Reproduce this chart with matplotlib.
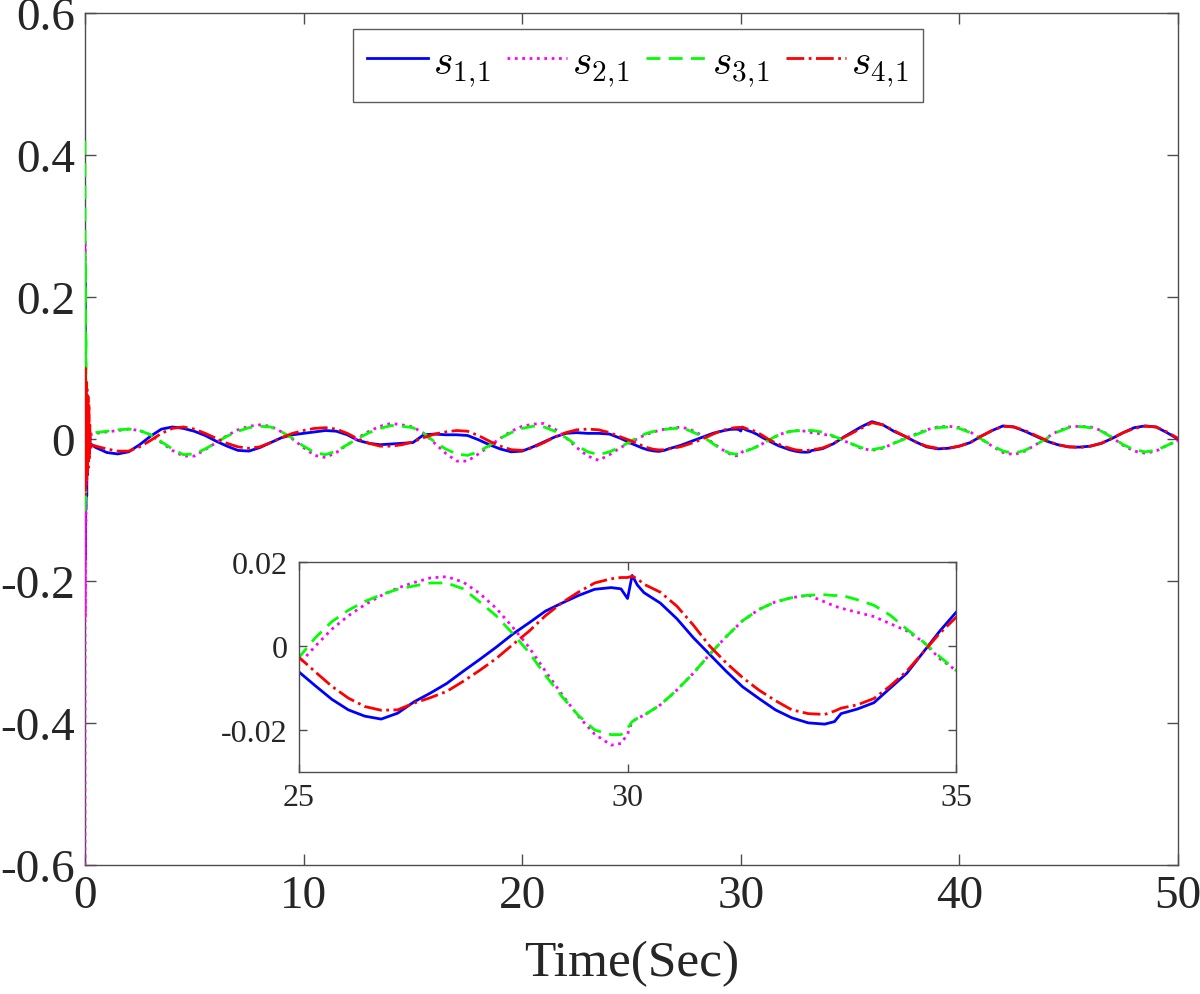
import matplotlib
matplotlib.use("Agg")
import matplotlib.pyplot as plt
from matplotlib.ticker import FuncFormatter

plt.rcParams['font.family'] = ['Liberation Serif', 'DejaVu Serif']
plt.rcParams['mathtext.fontset'] = 'cm'
plt.rcParams['axes.unicode_minus'] = False

# ---------------- data ----------------
t_start = [0.0, 0.01, 0.02, 0.03, 0.04, 0.06, 0.08, 0.10, 0.12, 0.14, 0.16, 0.18, 0.20, 0.22, 0.25, 0.30]
t_early = [0.5, 1.0, 1.5, 2.0, 2.5, 3.0, 3.5, 4.0, 4.5, 5.0, 5.5, 6.0, 6.5, 7.0, 7.5, 8.0, 8.5, 9.0, 9.5, 10.0,
           10.5, 11.0, 11.5, 12.0, 12.5, 13.0, 13.5, 14.0, 14.5, 15.0, 15.5, 16.0, 16.5, 17.0, 17.5, 18.0, 18.5,
           19.0, 19.5, 20.0, 20.5, 21.0, 21.5, 22.0, 22.5, 23.0, 23.5, 24.0, 24.5]
t_zoom = [25.0, 25.25, 25.5, 25.75, 26.0, 26.25, 26.5, 26.75, 27.0, 27.25, 27.5, 27.75, 28.0, 28.25, 28.5, 28.75,
          29.0, 29.25, 29.5, 29.75, 29.9, 30.0, 30.07, 30.15, 30.25, 30.5, 30.75, 31.0, 31.25, 31.5, 31.75, 32.0,
          32.25, 32.5, 32.75, 33.0, 33.15, 33.25, 33.5, 33.75, 34.0, 34.25, 34.5, 34.75, 35.0]
t_late = [35.5, 36.0, 36.5, 37.0, 37.5, 38.0, 38.5, 39.0, 39.5, 40.0, 40.5, 41.0, 41.5, 42.0, 42.5, 43.0, 43.5,
          44.0, 44.5, 45.0, 45.5, 46.0, 46.5, 47.0, 47.5, 48.0, 48.5, 49.0, 49.5, 50.0]

s1_start = [0.0, 0.22, -0.17, 0.12, -0.10, 0.07, -0.08, 0.05, -0.05, 0.03, -0.03, 0.02, -0.02, 0.005, -0.012, -0.008]
s1_early = [-0.012, -0.019, -0.021, -0.018, -0.008, 0.004, 0.014, 0.017, 0.015, 0.011, 0.005, -0.003, -0.010,
            -0.016, -0.017, -0.012, -0.005, 0.002, 0.006, 0.008, 0.010, 0.012, 0.011, 0.006, -0.002, -0.006,
            -0.008, -0.007, -0.006, -0.005, 0.006, 0.007, 0.006, 0.006, 0.005, -0.001, -0.008, -0.014, -0.018,
            -0.017, -0.011, -0.004, 0.003, 0.008, 0.009, 0.008, 0.008, 0.007, 0.001]
s1_zoom = [-0.0062, -0.0095, -0.0127, -0.0152, -0.0167, -0.0174, -0.0160, -0.0133, -0.0112, -0.0089, -0.0060,
           -0.0032, -0.0003, 0.0028, 0.0055, 0.0083, 0.0102, 0.0120, 0.0135, 0.0139, 0.0136, 0.0113, 0.0168,
           0.0145, 0.0127, 0.0102, 0.0065, 0.0020, -0.0020, -0.0060, -0.0097, -0.0125, -0.0152, -0.0171,
           -0.0183, -0.0186, -0.0180, -0.0161, -0.0150, -0.0135, -0.0100, -0.0065, -0.0015, 0.0035, 0.0080]
s1_late = [0.017, 0.0245, 0.020, 0.011, 0.004, -0.004, -0.011, -0.0138, -0.013, -0.010, -0.005, 0.004, 0.012,
           0.0185, 0.017, 0.011, 0.004, -0.003, -0.008, -0.011, -0.0114, -0.010, -0.006, 0.001, 0.009, 0.016,
           0.0185, 0.017, 0.009, 0.000]

s2_start = [-0.60, 0.28, -0.25, 0.15, -0.12, 0.08, -0.06, 0.04, -0.03, 0.02, -0.015, 0.012, -0.005, 0.008, 0.004, 0.007]
s2_early = [0.008, 0.010, 0.012, 0.014, 0.012, 0.006, -0.005, -0.016, -0.024, -0.024, -0.015, -0.005, 0.005,
            0.013, 0.018, 0.020, 0.018, 0.010, 0.000, -0.012, -0.023, -0.026, -0.019, -0.008, 0.002, 0.011,
            0.018, 0.022, 0.020, 0.017, 0.008, -0.006, -0.020, -0.031, -0.031, -0.021, -0.010, 0.001, 0.011,
            0.018, 0.021, 0.022, 0.014, 0.002, -0.012, -0.024, -0.030, -0.022, -0.012]
s2_zoom = [-0.0043, 0.0000, 0.0040, 0.0072, 0.0098, 0.0120, 0.0138, 0.0151, 0.0162, 0.0165, 0.0152, 0.0125,
           0.0090, 0.0045, -0.0003, -0.0060, -0.0115, -0.0167, -0.0210, -0.0236, -0.0232, -0.0210, -0.0180,
           -0.0172, -0.0165, -0.0140, -0.0105, -0.0065, -0.0020, 0.0022, 0.0060, 0.0087, 0.0105, 0.0115,
           0.0121, 0.0105, 0.0095, 0.0090, 0.0080, 0.0070, 0.0053, 0.0036, 0.0010, -0.0030, -0.0058]
s2_late = [-0.013, -0.016, -0.013, -0.006, 0.001, 0.007, 0.013, 0.017, 0.018, 0.016, 0.010, 0.000, -0.010,
           -0.019, -0.022, -0.017, -0.008, 0.002, 0.011, 0.017, 0.018, 0.017, 0.012, 0.002, -0.009, -0.017,
           -0.020, -0.017, -0.009, -0.002]

s3_start = [0.42, -0.10, 0.25, -0.08, 0.15, -0.05, 0.08, -0.04, 0.05, -0.02, 0.03, -0.01, 0.02, 0.004, 0.010, 0.0076]
s3_early = [0.009, 0.011, 0.013, 0.014, 0.012, 0.006, -0.004, -0.014, -0.022, -0.021, -0.014, -0.005, 0.004,
            0.011, 0.016, 0.018, 0.017, 0.010, 0.001, -0.010, -0.019, -0.022, -0.017, -0.008, 0.001, 0.009,
            0.015, 0.019, 0.018, 0.016, 0.008, -0.004, -0.014, -0.021, -0.023, -0.018, -0.009, 0.001, 0.009,
            0.015, 0.018, 0.017, 0.011, 0.002, -0.009, -0.018, -0.022, -0.018, -0.011]
s3_zoom = [-0.0027, 0.0020, 0.0058, 0.0085, 0.0106, 0.0122, 0.0135, 0.0143, 0.0150, 0.0150, 0.0136, 0.0105,
           0.0072, 0.0030, -0.0015, -0.0070, -0.0120, -0.0165, -0.0200, -0.0211, -0.0211, -0.0196, -0.0180,
           -0.0172, -0.0165, -0.0140, -0.0105, -0.0065, -0.0020, 0.0022, 0.0060, 0.0087, 0.0105, 0.0115,
           0.0121, 0.0122, 0.0120, 0.0121, 0.0110, 0.0097, 0.0073, 0.0040, 0.0010, -0.0025, -0.0058]
s3_late = [-0.012, -0.015, -0.012, -0.006, 0.000, 0.006, 0.012, 0.016, 0.017, 0.015, 0.009, 0.000, -0.009,
           -0.017, -0.020, -0.016, -0.008, 0.001, 0.010, 0.016, 0.0176, 0.016, 0.011, 0.002, -0.008, -0.015,
           -0.018, -0.016, -0.009, -0.002]

s4_start = [0.0, 0.10, -0.08, 0.09, -0.07, 0.08, -0.06, 0.07, -0.05, 0.06, -0.04, 0.05, -0.03, 0.02, -0.015, -0.008]
s4_early = [-0.010, -0.014, -0.017, -0.017, -0.011, -0.002, 0.008, 0.015, 0.017, 0.014, 0.008, 0.001, -0.006,
            -0.011, -0.013, -0.011, -0.005, 0.002, 0.008, 0.012, 0.015, 0.016, 0.014, 0.008, 0.000, -0.006,
            -0.010, -0.010, -0.008, -0.004, 0.002, 0.007, 0.010, 0.012, 0.011, 0.005, -0.003, -0.010, -0.015,
            -0.016, -0.012, -0.005, 0.003, 0.009, 0.013, 0.014, 0.013, 0.009, 0.003]
s4_zoom = [-0.0027, -0.0062, -0.0096, -0.0124, -0.0144, -0.0153, -0.0152, -0.0136, -0.0123, -0.0108, -0.0084,
           -0.0058, -0.0030, 0.0003, 0.0035, 0.0072, 0.0103, 0.0128, 0.0150, 0.0160, 0.0163, 0.0163, 0.0166,
           0.0160, 0.0147, 0.0128, 0.0095, 0.0050, 0.0000, -0.0040, -0.0075, -0.0105, -0.0130, -0.0152,
           -0.0161, -0.0163, -0.0155, -0.0148, -0.0140, -0.0125, -0.0095, -0.0060, -0.0015, 0.0030, 0.0068]
s4_late = [0.015, 0.023, 0.020, 0.012, 0.004, -0.004, -0.010, -0.013, -0.013, -0.010, -0.005, 0.004, 0.012,
           0.018, 0.017, 0.012, 0.005, -0.002, -0.008, -0.011, -0.012, -0.010, -0.006, 0.001, 0.009, 0.015,
           0.018, 0.017, 0.010, 0.001]

labels = [r'$s_{1,\!1}$', r'$s_{2,\!1}$', r'$s_{3,\!1}$', r'$s_{4,\!1}$']
main_xticks = [0, 10, 20, 30, 40, 50]
main_yticks = [-0.6, -0.4, -0.2, 0, 0.2, 0.4, 0.6]
inset_xticks = [25, 30, 35]
inset_yticks = [-0.02, 0, 0.02]

t = t_start + t_early + t_zoom + t_late
series = [s1_start + s1_early + s1_zoom + s1_late,
          s2_start + s2_early + s2_zoom + s2_late,
          s3_start + s3_early + s3_zoom + s3_late,
          s4_start + s4_early + s4_zoom + s4_late]

colors = ['#0000FF', '#FF00FF', '#00FF00', '#FF0000']
styles = [dict(linestyle='-'), dict(linestyle=':'), dict(linestyle='--', dashes=(5, 3)), dict(linestyle='-.')]

spine_col = '#4d4d4d'
txt_col = '#262626'
fmt = FuncFormatter(lambda v, p: ('%g' % round(v, 6)))

fig = plt.figure(figsize=(12, 9.95), dpi=100)
ax = fig.add_axes([0.0708, 0.1296, 0.9108, 0.8563])
for y, c, st, lab in zip(series, colors, styles, labels):
    ax.plot(t, y, color=c, lw=2.0, label=lab, zorder=3, **st)
ax.set_xlim(0, 50)
ax.set_ylim(-0.6, 0.6)
ax.set_xticks(main_xticks)
ax.set_yticks(main_yticks)
ax.xaxis.set_major_formatter(fmt)
ax.yaxis.set_major_formatter(fmt)
ax.tick_params(direction='in', length=8, width=1.0, top=True, right=True,
               labelsize=34, colors=spine_col, labelcolor=txt_col, pad=7)
for s in ax.spines.values():
    s.set_color(spine_col)
    s.set_linewidth(1.0)
ax.set_xlabel('Time(Sec)', fontsize=37, color=txt_col, labelpad=16)
leg = ax.legend(loc='upper center', ncol=4, fontsize=30, frameon=True, fancybox=False,
                edgecolor='#333333', handlelength=1.45, handletextpad=0.12, columnspacing=0.4,
                borderpad=0.35, bbox_to_anchor=(0.506, 1.0), borderaxespad=0.38)
leg.get_frame().set_linewidth(1.0)
leg.set_zorder(5)

axi = fig.add_axes([0.2492, 0.2231, 0.5475, 0.2111])
for y, c, st in zip(series, colors, styles):
    axi.plot(t, y, color=c, lw=2.0, **st)
axi.set_xlim(25, 35)
axi.set_ylim(-0.03, 0.02)
axi.set_xticks(inset_xticks)
axi.set_yticks(inset_yticks)
axi.xaxis.set_major_formatter(fmt)
axi.yaxis.set_major_formatter(fmt)
axi.tick_params(direction='in', length=6, width=1.0, top=True, right=True,
                labelsize=23, colors=spine_col, labelcolor=txt_col, pad=8)
for s in axi.spines.values():
    s.set_color(spine_col)
    s.set_linewidth(1.0)

fig.savefig('out.png', dpi=100)
